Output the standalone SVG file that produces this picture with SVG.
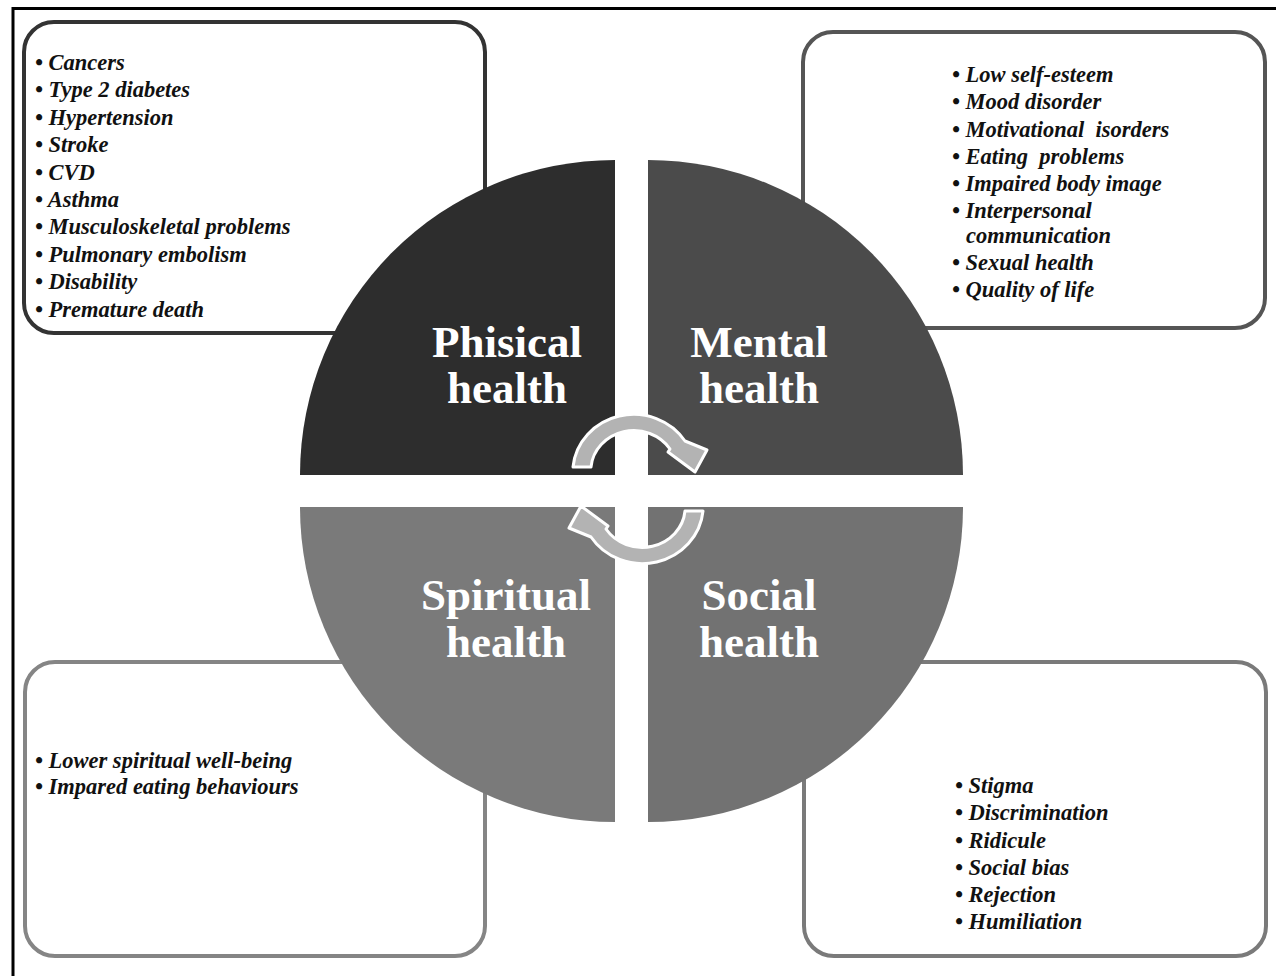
<svg xmlns="http://www.w3.org/2000/svg" width="1276" height="976" viewBox="0 0 1276 976">
<style>
.list{font-family:"Liberation Serif","Times New Roman",serif;font-weight:bold;font-style:italic;font-size:22.5px;fill:#111;white-space:pre}
.big{font-family:"Liberation Serif","Times New Roman",serif;font-weight:bold;font-size:45px;fill:#fff;text-anchor:middle}
.box{fill:#fff;stroke-width:4}
.arrow{fill:#b3b3b3;stroke:#fff;stroke-width:3;stroke-linejoin:round}
</style>
<defs>
<path id="carrow" d="M 573 467 A 61 58 0 0 1 685 441 L 707 450 L 695 472 L 668 452 L 670 449 A 43 40 0 0 0 591 467 Z"/>
</defs>
<rect x="0" y="0" width="1276" height="976" fill="#fff"/>
<rect x="13" y="8.5" width="1290" height="1000" fill="none" stroke="#000" stroke-width="3"/>

<g id="box-physical">
<rect class="box" x="24" y="22" width="461" height="311" rx="30" stroke="#333"/>
<text class="list" x="35" y="70">• Cancers</text>
<text class="list" x="35" y="97.4">• Type 2 diabetes</text>
<text class="list" x="35" y="124.8">• Hypertension</text>
<text class="list" x="35" y="152.2">• Stroke</text>
<text class="list" x="35" y="179.6">• CVD</text>
<text class="list" x="35" y="207">• Asthma</text>
<text class="list" x="35" y="234.4">• Musculoskeletal problems</text>
<text class="list" x="35" y="261.8">• Pulmonary embolism</text>
<text class="list" x="35" y="289.2">• Disability</text>
<text class="list" x="35" y="316.6">• Premature death</text>
</g>

<g id="box-mental">
<rect class="box" x="803" y="32" width="462" height="296" rx="30" stroke="#555"/>
<text class="list" x="952" y="82">• Low self-esteem</text>
<text class="list" x="952" y="109">• Mood disorder</text>
<text class="list" x="952" y="137">• Motivational  isorders</text>
<text class="list" x="952" y="164">• Eating  problems</text>
<text class="list" x="952" y="191">• Impaired body image</text>
<text class="list" x="952" y="218">• Interpersonal</text>
<text class="list" x="966" y="243">communication</text>
<text class="list" x="952" y="270">• Sexual health</text>
<text class="list" x="952" y="297">• Quality of life</text>
</g>

<g id="box-spiritual">
<rect class="box" x="25" y="662" width="460" height="294" rx="30" stroke="#858585"/>
<text class="list" x="35" y="768">• Lower spiritual well-being</text>
<text class="list" x="35" y="794">• Impared eating behaviours</text>
</g>

<g id="box-social">
<rect class="box" x="804" y="662" width="462" height="294" rx="30" stroke="#7a7a7a"/>
<text class="list" x="955" y="793">• Stigma</text>
<text class="list" x="955" y="820">• Discrimination</text>
<text class="list" x="955" y="848">• Ridicule</text>
<text class="list" x="955" y="875">• Social bias</text>
<text class="list" x="955" y="902">• Rejection</text>
<text class="list" x="955" y="929">• Humiliation</text>
</g>

<g id="physical-health">
<path d="M 615 475 L 300 475 A 315 315 0 0 1 615 160 Z" fill="#2d2d2d"/>
<text class="big" x="507" y="357">Phisical</text>
<text class="big" x="507" y="403">health</text>
</g>
<g id="mental-health">
<path d="M 648 475 L 648 160 A 315 315 0 0 1 963 475 Z" fill="#4b4b4b"/>
<text class="big" x="759" y="357">Mental</text>
<text class="big" x="759" y="403">health</text>
</g>
<g id="spiritual-health">
<path d="M 615 507 L 615 822 A 315 315 0 0 1 300 507 Z" fill="#7a7a7a"/>
<text class="big" x="506" y="610">Spiritual</text>
<text class="big" x="506" y="657">health</text>
</g>
<g id="social-health">
<path d="M 648 507 L 963 507 A 315 315 0 0 1 648 822 Z" fill="#727272"/>
<text class="big" x="759" y="610">Social</text>
<text class="big" x="759" y="657">health</text>
</g>

<g id="connectors">
<use href="#carrow" class="arrow"/>
<use href="#carrow" class="arrow" transform="rotate(180 638 489)"/>
</g>
</svg>
